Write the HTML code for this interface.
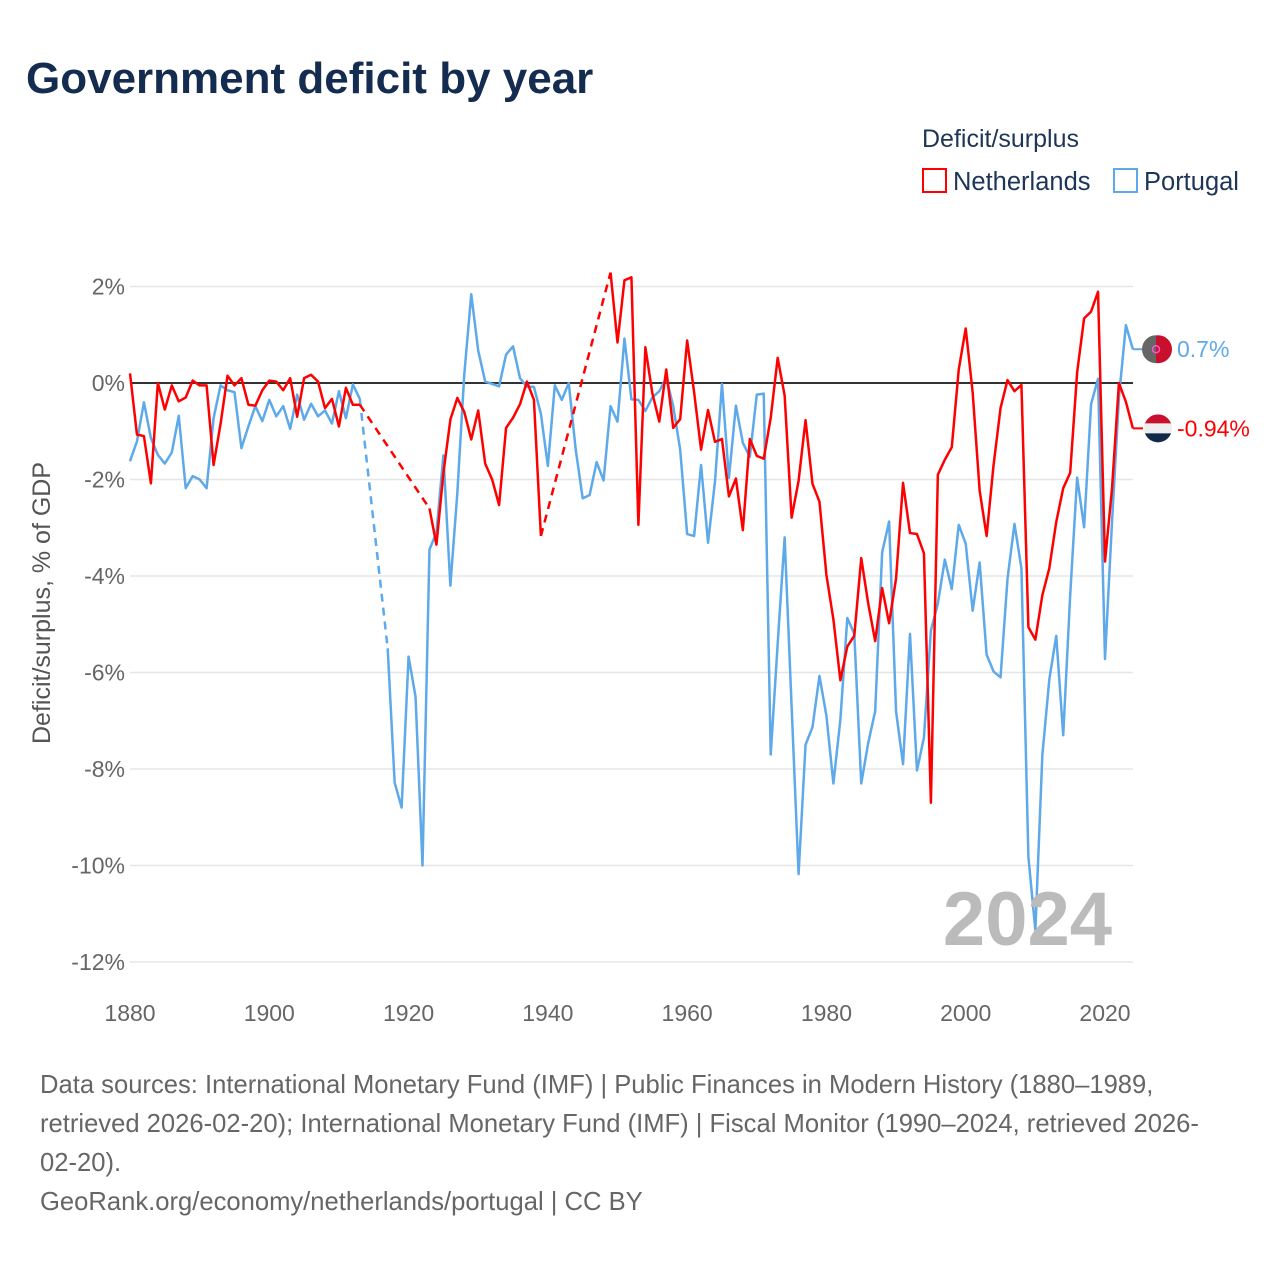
<!DOCTYPE html>
<html><head><meta charset="utf-8"><style>
body{margin:0;background:#fff;width:1280px;height:1280px;overflow:hidden;font-family:"Liberation Sans",sans-serif}
</style></head><body>
<svg width="1280" height="1280" xmlns="http://www.w3.org/2000/svg" style="font-family:'Liberation Sans',sans-serif">
<text x="26" y="93" font-size="44" font-weight="bold" fill="#142c4f">Government deficit by year</text>
<text x="922" y="147" font-size="25" fill="#1d3557">Deficit/surplus</text>
<g><rect x="923" y="169" width="23" height="23" fill="none" stroke="#f00" stroke-width="2"/><text x="953" y="190" font-size="25.5" fill="#1d3557">Netherlands</text></g>
<g><rect x="1114" y="169" width="23" height="23" fill="none" stroke="#5da9e9" stroke-width="2"/><text x="1144" y="190" font-size="25.5" fill="#1d3557">Portugal</text></g>
<g id="grid"></g><g id="axes"></g><g id="series"></g><g id="ends"></g>
<text x="1112" y="945" font-size="76" font-weight="bold" fill="#bbb" text-anchor="end">2024</text>
<text transform="translate(50,603) rotate(-90)" font-size="25" fill="#555" text-anchor="middle">Deficit/surplus, % of GDP</text>
<g font-size="25.6" fill="#666">
<text x="40" y="1093">Data sources: International Monetary Fund (IMF) | Public Finances in Modern History (1880–1989,</text>
<text x="40" y="1132">retrieved 2026-02-20); International Monetary Fund (IMF) | Fiscal Monitor (1990–2024, retrieved 2026-</text>
<text x="40" y="1171">02-20).</text>
<text x="40" y="1210">GeoRank.org/economy/netherlands/portugal | CC BY</text>
</g>
</svg>
<script>
const yTicks=[2,0,-2,-4,-6,-8,-10,-12];
const xTicks=[1880,1900,1920,1940,1960,1980,2000,2020];
const nlStart=1880;
const nlValues=[0.2,-1.07,-1.1,-2.08,0,-0.55,-0.05,-0.38,-0.3,0.05,-0.05,-0.05,-1.7,-0.85,0.15,-0.05,0.1,-0.45,-0.47,-0.15,0.05,0.03,-0.15,0.1,-0.7,0.1,0.17,0.03,-0.52,-0.33,-0.9,-0.1,-0.45,-0.45,
null,null,null,null,null,null,null,null,null,
-2.6,-3.35,-1.87,-0.76,-0.31,-0.6,-1.17,-0.57,-1.67,-2.0,-2.53,-0.93,-0.72,-0.44,0.03,-0.35,-3.17,
null,null,null,null,null,null,null,null,null,
2.29,0.84,2.13,2.19,-2.94,0.74,-0.21,-0.8,0.28,-0.93,-0.75,0.88,-0.19,-1.38,-0.56,-1.22,-1.16,-2.35,-1.98,-3.05,-1.16,-1.51,-1.57,-0.72,0.52,-0.26,-2.79,-2.03,-0.77,-2.09,-2.46,-3.98,-4.9,-6.16,-5.46,-5.24,-3.63,-4.57,-5.35,-4.25,-4.98,-4.05,-2.07,-3.11,-3.13,-3.53,-8.7,-1.9,-1.59,-1.33,0.28,1.13,-0.2,-2.23,-3.17,-1.7,-0.52,0.06,-0.17,-0.04,-5.06,-5.32,-4.4,-3.84,-2.88,-2.18,-1.86,0.22,1.34,1.48,1.89,-3.7,-2.2,0,-0.39,-0.94];
const ptStart=1880;
const ptValues=[-1.62,-1.21,-0.4,-1.14,-1.49,-1.67,-1.44,-0.68,-2.18,-1.93,-2.0,-2.18,-0.73,-0.05,-0.15,-0.19,-1.35,-0.9,-0.48,-0.79,-0.35,-0.69,-0.48,-0.95,-0.24,-0.76,-0.43,-0.69,-0.57,-0.84,-0.17,-0.73,-0.03,-0.33,
null,null,null,
-5.5,-8.28,-8.8,-5.67,-6.5,-10.0,-3.45,-3.1,-1.5,-4.2,-2.28,0.18,1.84,0.67,0.03,-0.02,-0.07,0.59,0.76,0.1,-0.08,-0.08,-0.64,-1.72,-0.05,-0.35,0,-1.38,-2.39,-2.32,-1.64,-2.02,-0.48,-0.8,0.92,-0.34,-0.35,-0.58,-0.3,-0.17,0.11,-0.48,-1.38,-3.13,-3.17,-1.7,-3.31,-2.04,-0.02,-1.97,-0.47,-1.24,-1.53,-0.24,-0.22,-7.7,-5.4,-3.2,-6.7,-10.18,-7.5,-7.13,-6.07,-6.9,-8.3,-6.98,-4.87,-5.2,-8.3,-7.46,-6.8,-3.51,-2.87,-6.81,-7.9,-5.2,-8.03,-7.35,-5.13,-4.57,-3.66,-4.27,-2.94,-3.33,-4.72,-3.72,-5.63,-5.98,-6.1,-4.06,-2.92,-3.84,-9.82,-11.34,-7.72,-6.15,-5.24,-7.3,-4.4,-1.96,-2.99,-0.44,0.09,-5.72,-2.9,-0.3,1.2,0.7];
const NS='http://www.w3.org/2000/svg';
const X0=130,X1=1133;
function xs(y){return 130+(y-1880)*975/140;}
function ys(v){return 383-v*48.25;}
function mk(t,a,p){const e=document.createElementNS(NS,t);for(const k in a)e.setAttribute(k,a[k]);p.appendChild(e);return e;}
const grid=document.getElementById('grid'),axes=document.getElementById('axes'),ser=document.getElementById('series'),ends=document.getElementById('ends');
yTicks.forEach(v=>{
 const l=mk('line',{x1:X0,x2:X1,y1:ys(v),y2:ys(v),stroke:'#e6e6e6','stroke-width':1.5},grid);
 
 
 const t=mk('text',{x:125,y:ys(v)+8,'font-size':23,fill:'#666','text-anchor':'end'},axes);
 t.textContent=v+'%';
 
 
});
xTicks.forEach(y=>{
 const t=mk('text',{x:xs(y),y:1021,'font-size':23,fill:'#666','text-anchor':'middle'},axes);
 t.textContent=y;
 
 
});
const zl=mk('line',{x1:X0,x2:X1,y1:ys(0),y2:ys(0),stroke:'#333','stroke-width':2},axes);


function drawSeries(start,vals,color,name){
 const g=mk('g',{},ser);
 
 
 let seg=[];const segs=[];
 vals.forEach((v,i)=>{if(v===null){if(seg.length)segs.push(seg);seg=[];}else seg.push([xs(start+i),ys(v)]);});
 if(seg.length)segs.push(seg);
 segs.forEach((s,k)=>{
  if(k>0){const p=segs[k-1][segs[k-1].length-1];
   const d=mk('line',{x1:p[0],y1:p[1],x2:s[0][0],y2:s[0][1],stroke:color,'stroke-width':2.5,'stroke-dasharray':'8 6'},g);
   
   }
  const pa=mk('polyline',{points:s.map(p=>p.join(',')).join(' '),fill:'none',stroke:color,'stroke-width':2.5,'stroke-linejoin':'round'},g);
  
  
 });
 const lv=vals[vals.length-1];return [xs(start+vals.length-1),ys(lv),lv];
}
const pe=drawSeries(ptStart,ptValues,'#5da9e9','portugal');
const ne=drawSeries(nlStart,nlValues,'#f00','netherlands');
function endLabel(e,color,name,flag){
 const g=mk('g',{},ends);
 
 
 mk('line',{x1:e[0],x2:1143,y1:e[1],y2:e[1],stroke:color,'stroke-width':2},g);
 flag(g,1158,e[1]);
 const t=mk('text',{x:1177,y:e[1]+8,'font-size':23,fill:color},g);
 t.textContent=(Math.round(e[2]*100)/100)+'%';
}
endLabel(pe,'#5da9e9','portugal',(g,cx,cy)=>{
 mk('circle',{cx,cy,r:14,fill:'#c8102e'},g);
 mk('path',{d:`M${cx-2},${cy-14} A14,14 0 0 0 ${cx-2},${cy+14} Z`,fill:'#666'},g);
 mk('circle',{cx:cx-2,cy,r:3.5,fill:'none',stroke:'#f5c',"stroke-width":1.5},g);
});
endLabel(ne,'#f00','netherlands',(g,cx,cy)=>{
 const cp=mk('clipPath',{id:'nlc'},g);mk('circle',{cx,cy,r:14},cp);
 const f=mk('g',{'clip-path':'url(#nlc)'},g);
 mk('rect',{x:cx-14,y:cy-14,width:28,height:10,fill:'#c8102e'},f);
 mk('rect',{x:cx-14,y:cy-5,width:28,height:10,fill:'#eee'},f);
 mk('rect',{x:cx-14,y:cy+5,width:28,height:10,fill:'#13294b'},f);
});
</script>
</body></html>
